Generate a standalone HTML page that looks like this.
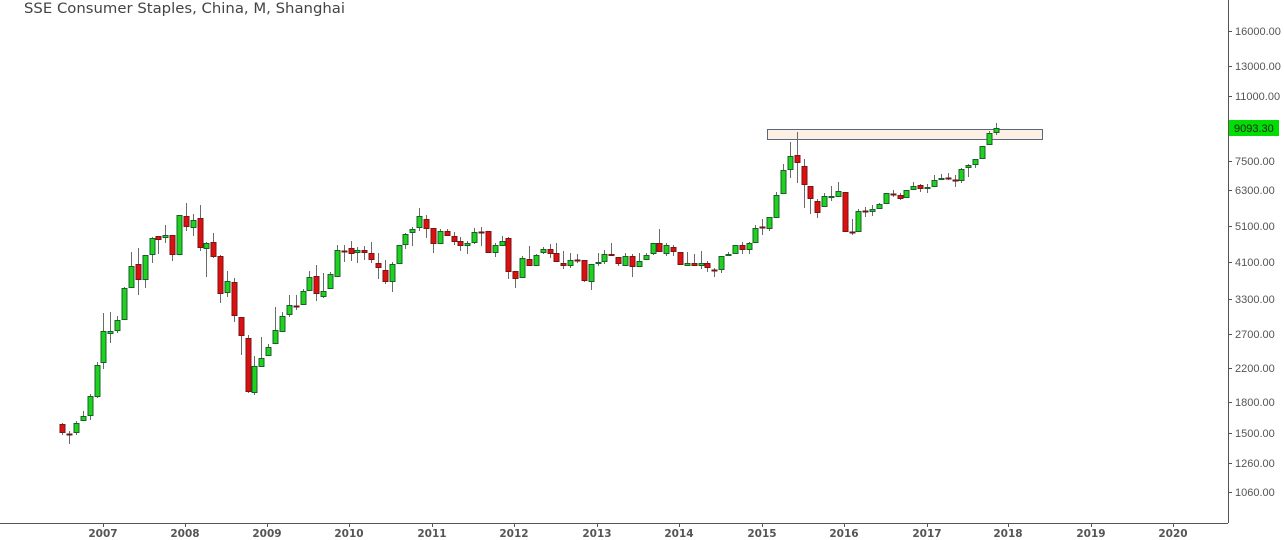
<!DOCTYPE html>
<html><head><meta charset="utf-8"><style>
html,body{margin:0;padding:0;background:#fff;}
svg{display:block;}
text{font-family:"DejaVu Sans","Liberation Sans",sans-serif;}
</style></head><body>
<svg id="c" width="1284" height="540" xmlns="http://www.w3.org/2000/svg">
<rect width="1284" height="540" fill="#fff"/>
<text x="24" y="13" font-size="14.5" fill="#444" textLength="321" lengthAdjust="spacingAndGlyphs">SSE Consumer Staples, China, M, Shanghai</text>
<rect x="767.5" y="129.5" width="275" height="10" fill="#fcefe3" stroke="#5a6780" stroke-width="1"/>
<g id="cs"></g>
<line x1="1228.5" y1="0" x2="1228.5" y2="523" stroke="#555"/>
<line x1="0" y1="523.5" x2="1228" y2="523.5" stroke="#555"/>
<g id="ax" font-size="11" fill="#555"></g>
<rect x="1229" y="120" width="50" height="16" fill="#00dd00"/>
<text x="1234" y="132" font-size="11" fill="#222" style="font-family:'Liberation Sans',sans-serif">9093.30</text>
</svg>
<script>
var ns="http://www.w3.org/2000/svg";
function el(t,a,p){var e=document.createElementNS(ns,t);for(var k in a)e.setAttribute(k,a[k]);(p||document.getElementById('cs')).appendChild(e);return e;}
var d=[
[424,433,423,435],[434,434,431,444],[433,423,421,435],[421,416,411,421],[416,396,394,420],
[397,365,362,398],[363,331,313,369],[334,331,312,343],[331,320,316,333],[320,288,287,320],
[288,266,252,288],[264,280,248,295],[280,255,255,288],[255,238,237,263],[236,240,236,254],
[238,235,225,243],[235,255,235,261],[255,215,215,255],[216,227,203,231],[228,220,214,236],
[218,248,205,251],[249,243,242,277],[242,257,233,258],[256,294,255,303],[293,281,271,297],
[282,316,278,322],[317,336,317,355],[338,392,335,393],[393,366,356,395],[367,358,337,367],
[356,347,344,356],[344,330,307,344],[332,316,312,332],[315,305,295,317],[306,307,295,310],
[305,291,289,305],[291,277,271,291],[276,294,265,301],[297,291,273,298],[289,274,272,289],
[277,250,245,277],[251,251,245,262],[248,254,241,261],[253,250,247,263],[250,253,246,260],
[253,260,242,263],[263,268,253,279],[270,282,260,284],[282,264,262,292],[264,245,245,264],
[245,234,233,249],[233,229,227,246],[228,216,208,231],[219,229,215,238],[228,244,228,253],
[244,231,229,244],[231,236,229,236],[236,242,232,245],[241,246,237,251],[246,243,241,254],
[243,232,228,244],[232,232,227,246],[231,253,231,253],[253,245,243,257],[246,241,236,246],
[238,272,237,279],[271,279,271,288],[278,258,256,278],[259,266,246,266],[266,255,254,266],
[253,249,247,254],[249,254,244,258],[253,262,243,262],[263,266,251,269],[266,260,253,268],
[260,260,254,263],[260,281,260,282],[282,264,264,290],[264,262,253,266],
[262,254,250,264],[254,256,243,256],[257,264,257,266],[266,256,253,266],[256,267,254,277],
[267,261,253,267],[260,255,253,260],[254,243,243,255],[243,252,229,252],[254,245,243,256],
[247,252,245,256],[252,265,252,265],[266,263,252,266],[263,266,254,266],[266,263,251,269],
[263,268,261,272],[270,270,268,277],[270,256,256,273],[256,254,252,256],[254,245,245,254],
[245,250,242,254],[250,243,242,254],[243,228,225,243],[227,227,219,235],[229,217,217,231],
[218,195,192,218],[194,170,164,194],[170,156,142,178],[155,163,132,183],[166,185,159,208],
[186,199,186,214],[201,213,199,218],[207,196,193,207],[198,196,186,201],[197,191,182,197],
[192,232,192,232],[232,232,219,235],[232,211,209,232],[211,212,207,217],[212,209,205,216],
[209,204,203,209],[204,193,193,204],[194,194,190,197],[195,199,193,200],[198,190,190,198],
[190,186,182,190],[185,189,184,192],[189,187,184,193],[187,180,175,187],[180,178,174,180],
[178,179,173,180],[180,181,175,187],[181,169,168,183],[168,165,164,177],[165,159,159,168],
[159,146,146,159],[145,133,131,145],[133,128,123,135]
];
var x0=62.3,dx=(995.7-62.3)/(d.length-1);
d.forEach(function(c,i){
 var x=Math.round(x0+i*dx);
 var up=c[1]<c[0];
 var top=Math.min(c[0],c[1]),bot=Math.max(c[0],c[1]);
 el('line',{x1:x+0.5,x2:x+0.5,y1:c[2],y2:c[3],stroke:'#6b6b6b','stroke-width':1});
 var h=bot-top;
 if(h<2){el('rect',{x:x-2.5,y:top-0.5,width:6,height:2,fill:up?'#1a5e2a':'#6b1a1a'});}
 else el('rect',{x:x-2,y:top+0.5,width:5,height:h-1,fill:up?'#1ed21e':'#dd1010',stroke:up?'#17602a':'#7a1515','stroke-width':1});
});
var ax=document.getElementById('ax');
var py=[[16000,31],[13000,66],[11000,96],[7500,161],[6300,190],[5100,226],[4100,262],[3300,299],[2700,334],[2200,368],[1800,402],[1500,433],[1260,463],[1060,492]];
py.forEach(function(p){
 el('line',{x1:1228,x2:1232,y1:p[1]+0.5,y2:p[1]+0.5,stroke:'#555'},ax);
 var t=el('text',{x:1235,y:p[1]+4,style:"font-family:'Liberation Sans',sans-serif"},ax);t.textContent=p[0].toFixed(2);
});
var yrs=[[2007,103],[2008,185],[2009,267],[2010,349],[2011,432],[2012,514],[2013,597],[2014,679],[2015,762],[2016,844],[2017,927],[2018,1008],[2019,1091],[2020,1173]];
yrs.forEach(function(y){
 el('line',{x1:y[1]+0.5,x2:y[1]+0.5,y1:523,y2:527,stroke:'#555'},ax);
 var t=el('text',{x:y[1],y:537,'text-anchor':'middle','font-weight':'bold','font-size':'10.5'},ax);t.textContent=y[0];
});
</script>
</body></html>
